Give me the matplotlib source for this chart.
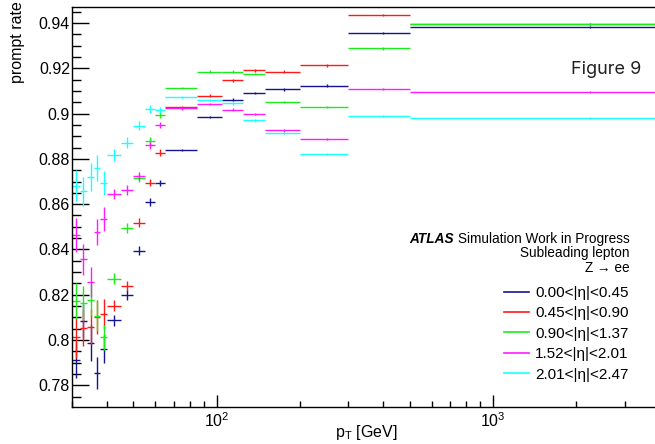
import numpy as np
import matplotlib
matplotlib.use("Agg")
import matplotlib.pyplot as plt
from matplotlib.lines import Line2D
from matplotlib.ticker import MultipleLocator, FuncFormatter, LogLocator, NullFormatter

plt.rcParams['font.family'] = ['Liberation Sans', 'DejaVu Sans']
plt.rcParams['mathtext.fontset'] = 'custom'
plt.rcParams['mathtext.rm'] = 'Liberation Sans'
plt.rcParams['mathtext.it'] = 'Liberation Sans:italic'

# pT bin edges [GeV]
edges = [30, 32, 34, 36, 38, 40, 45, 50, 55, 60, 65, 85, 105, 125, 150, 200, 300, 500, 4000]

labels = ["0.00<|\u03b7|<0.45", "0.45<|\u03b7|<0.90", "0.90<|\u03b7|<1.37",
          "1.52<|\u03b7|<2.01", "2.01<|\u03b7|<2.47"]
colors = ['#14148f', '#ff1a1a', '#1aee1a', '#ff1aff', '#1affff']

rate_eta1 = [0.7910, 0.8084, 0.7988, 0.7853, 0.7962, 0.8087, 0.8198, 0.8395, 0.8610, 0.8695,
             0.8840, 0.8985, 0.9061, 0.9091, 0.9107, 0.9124, 0.9356, 0.9384]
rate_eta2 = [0.8012, 0.8052, 0.8058, 0.8103, 0.8115, 0.8152, 0.8239, 0.8519, 0.8695, 0.8828,
             0.9028, 0.9080, 0.9148, 0.9192, 0.9185, 0.9213, 0.9435, 0.9396]
rate_eta3 = [0.8173, 0.8162, 0.8177, 0.8106, 0.8012, 0.8270, 0.8494, 0.8715, 0.8880, 0.8995,
             0.9113, 0.9186, 0.9185, 0.9175, 0.9052, 0.9029, 0.9288, 0.9396]
rate_eta4 = [0.8464, 0.8357, 0.8257, 0.8476, 0.8535, 0.8644, 0.8662, 0.8725, 0.8860, 0.8950,
             0.9024, 0.9043, 0.9017, 0.8998, 0.8927, 0.8887, 0.9110, 0.9096]
rate_eta5 = [0.8682, 0.8656, 0.8719, 0.8759, 0.8695, 0.8818, 0.8872, 0.8946, 0.9021, 0.9016,
             0.9073, 0.9060, 0.9045, 0.8971, 0.8914, 0.8822, 0.8990, 0.8980]

err_eta1 = [0.0080, 0.0075, 0.0080, 0.0070, 0.0062, 0.0025, 0.0022, 0.0020, 0.0016, 0.0014,
            0.0006, 0.0006, 0.0006, 0.0006, 0.0006, 0.0005, 0.0005, 0.0005]
err_eta2 = [0.0090, 0.0080, 0.0078, 0.0075, 0.0065, 0.0025, 0.0022, 0.0020, 0.0016, 0.0014,
            0.0006, 0.0006, 0.0006, 0.0006, 0.0006, 0.0005, 0.0005, 0.0005]
err_eta3 = [0.0080, 0.0075, 0.0070, 0.0066, 0.0055, 0.0024, 0.0021, 0.0019, 0.0016, 0.0013,
            0.0006, 0.0006, 0.0006, 0.0006, 0.0006, 0.0005, 0.0005, 0.0005]
err_eta4 = [0.0075, 0.0069, 0.0066, 0.0058, 0.0053, 0.0023, 0.0021, 0.0019, 0.0016, 0.0013,
            0.0006, 0.0006, 0.0006, 0.0006, 0.0006, 0.0005, 0.0005, 0.0005]
err_eta5 = [0.0070, 0.0066, 0.0062, 0.0057, 0.0053, 0.0026, 0.0023, 0.0020, 0.0017, 0.0015,
            0.0006, 0.0006, 0.0006, 0.0006, 0.0006, 0.0005, 0.0005, 0.0005]

rates = [rate_eta1, rate_eta2, rate_eta3, rate_eta4, rate_eta5]
errs = [err_eta1, err_eta2, err_eta3, err_eta4, err_eta5]

W, H = 655, 444
def fx(px):
    return px / W
def fy(py):
    return 1 - py / H

fig = plt.figure(figsize=(W / 100, H / 100), dpi=100)
ax = fig.add_axes([fx(72), fy(406.7), (659.5 - 72) / W, (406.7 - 7.3) / H])

lo = np.array(edges[:-1], dtype=float)
hi = np.array(edges[1:], dtype=float)
centers = (lo + hi) / 2

for vals, e, c in zip(rates, errs, colors):
    ax.errorbar(centers, vals, xerr=[centers - lo, hi - centers], yerr=e,
                fmt='none', ecolor=c, elinewidth=1.0, capsize=0)

ax.set_xscale('log')
ax.set_xlim(30, 4000)
ax.set_ylim(0.7705, 0.947)

ax.yaxis.set_major_locator(MultipleLocator(0.02))
ax.yaxis.set_minor_locator(MultipleLocator(0.005))
ax.yaxis.set_major_formatter(FuncFormatter(lambda v, p: '%g' % round(v, 3)))
ax.xaxis.set_major_locator(LogLocator(base=10))
ax.xaxis.set_minor_locator(LogLocator(base=10, subs=np.arange(2, 10)))
ax.xaxis.set_minor_formatter(NullFormatter())

ax.tick_params(axis='y', which='major', direction='in', length=12, width=1, labelsize=11.5, pad=1.5)
ax.tick_params(axis='y', which='minor', direction='in', length=6.5, width=1)
ax.tick_params(axis='x', which='major', direction='in', length=8.5, width=1, labelsize=11.5, pad=3)
ax.tick_params(axis='x', which='minor', direction='in', length=4.3, width=1)
ax.spines['right'].set_visible(False)
for s in ['left', 'bottom', 'top']:
    ax.spines[s].set_linewidth(1.0)

fig.text(fx(18), fy(1), 'prompt rate', rotation=90, ha='center', va='top', fontsize=11.5)
fig.text(fx(366), fy(437), r'p$_{\mathrm{T}}$ [GeV]', ha='center', va='baseline', fontsize=11.5)

handles = [Line2D([], [], color=c, lw=1.2) for c in colors]
fig.legend(handles, labels, loc='upper left', bbox_to_anchor=(fx(504), fy(286)),
           bbox_transform=fig.transFigure, frameon=False, fontsize=11,
           handlelength=1.65, handletextpad=0.4, labelspacing=0.42,
           borderpad=0, borderaxespad=0)

t1 = fig.text(fx(630), fy(242.7), 'Simulation Work in Progress', ha='right', va='baseline', fontsize=9.8)
r = fig.canvas.get_renderer()
bb = t1.get_window_extent(renderer=r)
fig.text(bb.x0 / fig.bbox.width - fx(4), fy(242.7), 'ATLAS', ha='right', va='baseline',
         fontsize=9.8, fontweight='bold', fontstyle='italic')
fig.text(fx(630), fy(257.3), 'Subleading lepton', ha='right', va='baseline', fontsize=9.8)
fig.text(fx(630), fy(271.7), 'Z \u2192 ee', ha='right', va='baseline', fontsize=9.8)

fig.text(fx(641), fy(74), 'Figure 9', ha='right', va='baseline', fontsize=13,
         family=['Inter', 'DejaVu Sans'], color='#222222')

fig.savefig('out.png', dpi=100)
